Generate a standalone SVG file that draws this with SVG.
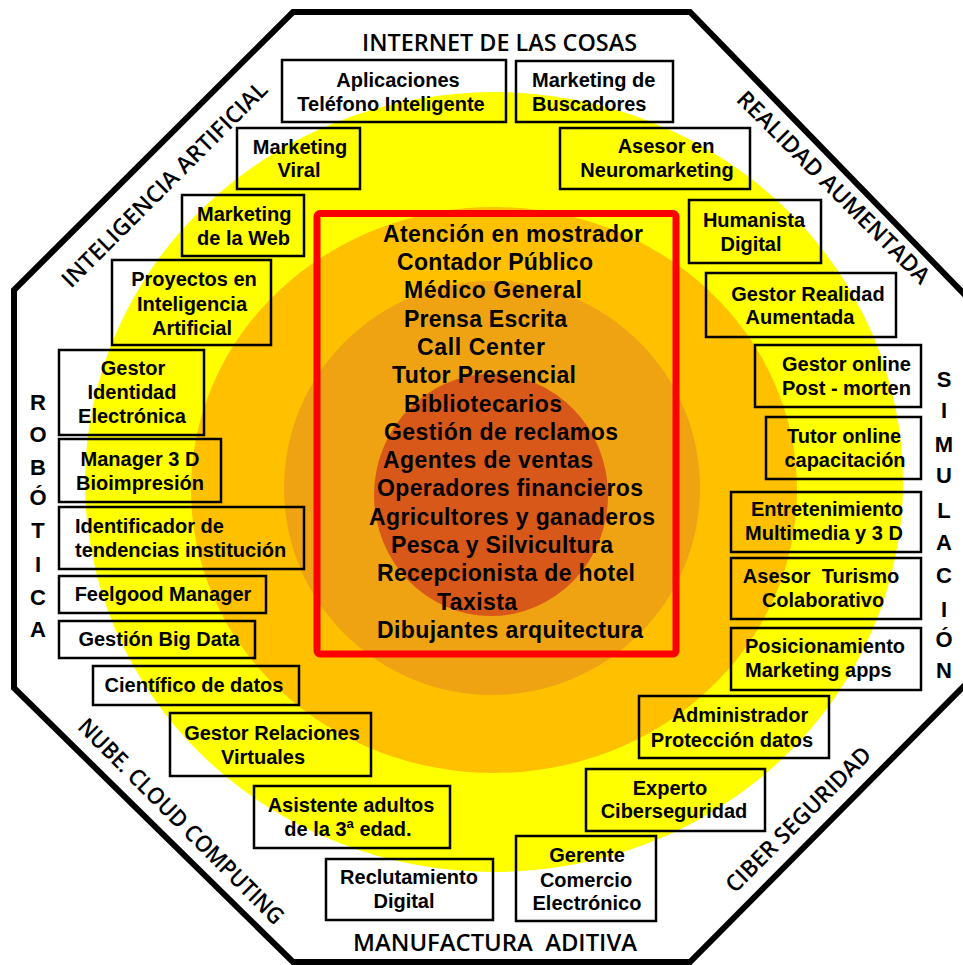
<svg xmlns="http://www.w3.org/2000/svg" width="963" height="965" viewBox="0 0 963 965">
<style>
.box{fill:none;stroke:#000;stroke-width:2.5}
.bt{font-family:"Liberation Sans",Arial,sans-serif;font-weight:bold;font-size:20px;fill:#000;text-anchor:middle}
.bl{text-anchor:start}
.ct{font-family:"Liberation Sans",Arial,sans-serif;font-weight:bold;font-size:23px;fill:#000}
.lab{font-family:"Open Sans",Lato,sans-serif;font-weight:600;font-size:23px;fill:#000;text-anchor:middle}
.vl{font-family:"Liberation Sans",Arial,sans-serif;font-weight:bold;font-size:22px;fill:#000;text-anchor:middle}
</style>
<rect width="963" height="965" fill="#fff"/>
<g id="frame">
<polygon points="293,12 690,12 966,296 966,684 690,962 293,962 14,688 14,290" fill="#fff" stroke="#000" stroke-width="6" stroke-linejoin="miter"/>
</g>
<g id="rings">
<ellipse cx="494" cy="482" rx="409" ry="390" fill="#FFFF00"/>
<ellipse cx="494" cy="490" rx="303" ry="283" fill="#FFC000"/>
<ellipse cx="492" cy="488" rx="208" ry="207" fill="#F0A312"/>
<ellipse cx="491" cy="495" rx="117" ry="121" fill="#D8581A"/>
</g>
<g id="area-labels">
<text class="lab" x="499.5" y="51" textLength="275" lengthAdjust="spacingAndGlyphs">INTERNET DE LAS COSAS</text>
<text class="lab" x="495" y="951" textLength="284" lengthAdjust="spacingAndGlyphs" xml:space="preserve">MANUFACTURA  ADITIVA</text>
<text class="lab" transform="translate(164,184) rotate(-45)" y="8.5" textLength="280" lengthAdjust="spacingAndGlyphs">INTELIGENCIA ARTIFICIAL</text>
<text class="lab" transform="translate(834,187) rotate(45)" y="8.5" textLength="262" lengthAdjust="spacingAndGlyphs">REALIDAD AUMENTADA</text>
<text class="lab" transform="translate(181.5,821) rotate(45)" y="8.5" textLength="280" lengthAdjust="spacingAndGlyphs">NUBE. CLOUD COMPUTING</text>
<text class="lab" transform="translate(798,819) rotate(-45)" y="8.5" textLength="195" lengthAdjust="spacingAndGlyphs">CIBER SEGURIDAD</text>
<g class="vl">
<text x="38" y="410">R</text><text x="38" y="442">O</text><text x="38" y="475">B</text><text x="38" y="505">Ó</text><text x="38" y="538">T</text><text x="38" y="572">I</text><text x="38" y="605">C</text><text x="38" y="637">A</text>
<text x="944" y="387">S</text><text x="944" y="418">I</text><text x="944" y="452">M</text><text x="944" y="483">U</text><text x="944" y="518">L</text><text x="944" y="550">A</text><text x="944" y="583">C</text><text x="944" y="617">I</text><text x="944" y="647">Ó</text><text x="944" y="678">N</text>
</g>
</g>
<g id="n-apps"><rect class="box" x="282" y="60" width="224" height="62"/><text class="bt" x="398" y="87">Aplicaciones</text><text class="bt" x="391" y="111">Teléfono Inteligente</text></g>
<g id="n-buscadores"><rect class="box" x="516" y="61" width="157" height="61"/><text class="bt bl" x="532" y="87">Marketing de</text><text class="bt bl" x="532" y="111">Buscadores</text></g>
<g id="n-viral"><rect class="box" x="237" y="128" width="123" height="61"/><text class="bt" x="300" y="154">Marketing</text><text class="bt" x="299" y="177">Viral</text></g>
<g id="n-web"><rect class="box" x="182" y="195" width="122" height="61"/><text class="bt bl" x="197" y="221">Marketing</text><text class="bt bl" x="197" y="245">de la Web</text></g>
<g id="n-proyectos"><rect class="box" x="112" y="260" width="159" height="85"/><text class="bt" x="194" y="286">Proyectos en</text><text class="bt" x="192" y="311">Inteligencia</text><text class="bt" x="192" y="335">Artificial</text></g>
<g id="n-neuro"><rect class="box" x="560" y="128" width="190" height="61"/><text class="bt" x="666" y="153">Asesor en</text><text class="bt" x="657" y="177">Neuromarketing</text></g>
<g id="n-humanista"><rect class="box" x="689" y="200" width="132" height="63"/><text class="bt" x="754" y="227">Humanista</text><text class="bt" x="751" y="251">Digital</text></g>
<g id="n-realidad"><rect class="box" x="706" y="273" width="190" height="64"/><text class="bt" x="808" y="301">Gestor Realidad</text><text class="bt" x="800" y="324">Aumentada</text></g>
<g id="n-identidad"><rect class="box" x="59" y="350" width="145" height="85"/><text class="bt" x="133" y="375">Gestor</text><text class="bt" x="132" y="399">Identidad</text><text class="bt" x="132" y="423">Electrónica</text></g>
<g id="n-manager3d"><rect class="box" x="59" y="439" width="162" height="63"/><text class="bt" x="140" y="466">Manager 3 D</text><text class="bt" x="140" y="490">Bioimpresión</text></g>
<g id="n-identificador"><rect class="box" x="59" y="507" width="245" height="62"/><text class="bt bl" x="75" y="533">Identificador de</text><text class="bt bl" x="75" y="557">tendencias institución</text></g>
<g id="n-feelgood"><rect class="box" x="59" y="576" width="207" height="37"/><text class="bt" x="163" y="601">Feelgood Manager</text></g>
<g id="n-bigdata"><rect class="box" x="59" y="621" width="196" height="37"/><text class="bt" x="159" y="646">Gestión Big Data</text></g>
<g id="n-postmorten"><rect class="box" x="755" y="345" width="166" height="62"/><text class="bt bl" x="782" y="371">Gestor online</text><text class="bt bl" x="782" y="395">Post - morten</text></g>
<g id="n-tutor"><rect class="box" x="766" y="417" width="155" height="62"/><text class="bt" x="844" y="443">Tutor online</text><text class="bt" x="845" y="467">capacitación</text></g>
<g id="n-entretenimiento"><rect class="box" x="731" y="492" width="190" height="60"/><text class="bt" x="827" y="516">Entretenimiento</text><text class="bt" x="824" y="540">Multimedia y 3 D</text></g>
<g id="n-turismo"><rect class="box" x="731" y="558" width="190" height="61"/><text class="bt" x="821" y="583">Asesor&#160; Turismo</text><text class="bt" x="823" y="607">Colaborativo</text></g>
<g id="n-posicionamiento"><rect class="box" x="731" y="628" width="190" height="62"/><text class="bt bl" x="745" y="653">Posicionamiento</text><text class="bt bl" x="745" y="677">Marketing apps</text></g>
<g id="n-cientifico"><rect class="box" x="93" y="666" width="206" height="39"/><text class="bt" x="194" y="692">Científico de datos</text></g>
<g id="n-relaciones"><rect class="box" x="170" y="713" width="201" height="63"/><text class="bt" x="272" y="740">Gestor Relaciones</text><text class="bt" x="263" y="764">Virtuales</text></g>
<g id="n-asistente"><rect class="box" x="254" y="786" width="196" height="62"/><text class="bt" x="351" y="812">Asistente adultos</text><text class="bt" x="348" y="836">de la 3<tspan font-size="13" dy="-8">a</tspan><tspan dy="8"> edad.</tspan></text></g>
<g id="n-reclutamiento"><rect class="box" x="326" y="859" width="167" height="61"/><text class="bt" x="409" y="884">Reclutamiento</text><text class="bt" x="404" y="908">Digital</text></g>
<g id="n-administrador"><rect class="box" x="639" y="696" width="190" height="62"/><text class="bt" x="740" y="722">Administrador</text><text class="bt" x="732" y="747">Protección datos</text></g>
<g id="n-experto"><rect class="box" x="586" y="769" width="179" height="62"/><text class="bt" x="670" y="795">Experto</text><text class="bt" x="674" y="818">Ciberseguridad</text></g>
<g id="n-gerente"><rect class="box" x="516" y="836" width="140" height="85"/><text class="bt" x="587" y="862">Gerente</text><text class="bt" x="586" y="887">Comercio</text><text class="bt" x="587" y="910">Electrónico</text></g>
<g id="n-core">
<rect x="317" y="213.5" width="359" height="440.5" rx="3" fill="none" stroke="#FF0000" stroke-width="7"/>
<text class="ct" x="383" y="241.7" textLength="260">Atención en mostrador</text>
<text class="ct" x="397" y="270" textLength="196">Contador Público</text>
<text class="ct" x="404" y="298.3" textLength="178">Médico General</text>
<text class="ct" x="404" y="326.6" textLength="163">Prensa Escrita</text>
<text class="ct" x="417" y="354.9" textLength="128">Call Center</text>
<text class="ct" x="392" y="383.2" textLength="184">Tutor Presencial</text>
<text class="ct" x="404" y="411.5" textLength="158">Bibliotecarios</text>
<text class="ct" x="384" y="439.8" textLength="234">Gestión de reclamos</text>
<text class="ct" x="383" y="468.1" textLength="210">Agentes de ventas</text>
<text class="ct" x="377" y="496.4" textLength="266">Operadores financieros</text>
<text class="ct" x="369" y="524.7" textLength="286">Agricultores y ganaderos</text>
<text class="ct" x="391" y="553" textLength="222">Pesca y Silvicultura</text>
<text class="ct" x="377" y="581.3" textLength="258">Recepcionista de hotel</text>
<text class="ct" x="437" y="609.6" textLength="80">Taxista</text>
<text class="ct" x="377" y="637.9" textLength="266">Dibujantes arquitectura</text>
</g>
</svg>
